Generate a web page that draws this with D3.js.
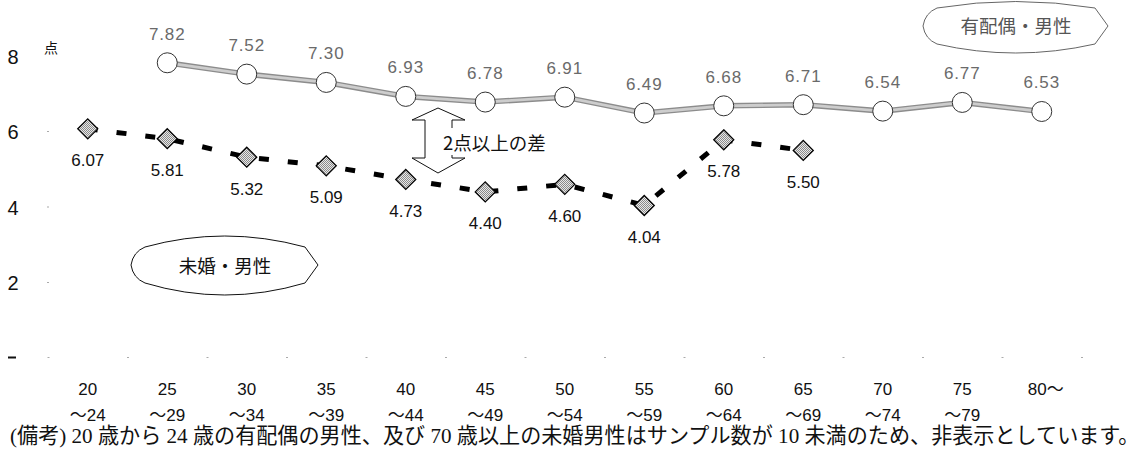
<!DOCTYPE html>
<html><head><meta charset="utf-8">
<script src="https://cdn.jsdelivr.net/npm/d3@7"></script>
<style>body{margin:0;background:#fff}svg{display:block}</style>
</head><body><svg id="c" width="1145" height="454"></svg>
<script>
// ---- data ----
const categories = ["20～24","25～29","30～34","35～39","40～44","45～49","50～54","55～59","60～64","65～69","70～74","75～79","80～"];
const tickLine1 = ["20","25","30","35","40","45","50","55","60","65","70","75","80～"];
const tickLine2 = ["～24","～29","～34","～39","～44","～49","～54","～59","～64","～69","～74","～79",""];
const marriedValues   = [null,7.82,7.52,7.30,6.93,6.78,6.91,6.49,6.68,6.71,6.54,6.77,6.53];
const unmarriedValues = [6.07,5.81,5.32,5.09,4.73,4.40,4.60,4.04,5.78,5.50,null,null,null];
const yTicks = [0,2,4,6,8];
const yUnit = "点";
const marriedName = "有配偶・男性";
const unmarriedName = "未婚・男性";
const diffNote = "2点以上の差";
const footnote = "(備考) 20 歳から 24 歳の有配偶の男性、及び 70 歳以上の未婚男性はサンプル数が 10 未満のため、非表示としています。";

const svg = d3.select("#c");
const sans = "'Liberation Sans', Arial, 'Noto Sans CJK JP', sans-serif";
const cjk = "'Noto Sans CJK JP', sans-serif";

const x = d3.scaleBand().domain(categories).range([48, 1081.5]);
const cx = c => x(c) + x.bandwidth()/2;
const y = d3.scaleLinear().domain([0, 8]).range([358, 56]);

// patterns
const defs = svg.append("defs");
const pat = defs.append("pattern").attr("id","stip").attr("width",2).attr("height",2).attr("patternUnits","userSpaceOnUse");
pat.append("rect").attr("width",2).attr("height",2).attr("fill","#e8e8e8");
pat.append("rect").attr("x",0).attr("y",0).attr("width",1).attr("height",1).attr("fill","#8a8a8a");
pat.append("rect").attr("x",1).attr("y",1).attr("width",1).attr("height",1).attr("fill","#8a8a8a");

// y axis: tick dots + labels
const yAxis = svg.append("g");
yAxis.selectAll("rect.tk").data(yTicks.filter(d => d > 0 && d < 8)).join("rect")
  .attr("x", 47).attr("y", d => y(d) - 0.5).attr("width", 2).attr("height", 1).attr("fill", "#aaa");
yAxis.selectAll("text").data(yTicks.filter(d => d > 0)).join("text")
  .attr("x", 13).attr("y", d => y(d) + 7.5).attr("text-anchor","middle")
  .attr("font-family", sans).attr("font-size", 20).attr("fill","#111").text(d => d);
yAxis.append("rect").attr("x", 8).attr("y", y(0) - 1.5).attr("width", 8).attr("height", 2).attr("fill","#111");
svg.append("text").attr("x", 51).attr("y", 53).attr("text-anchor","middle")
  .attr("font-family", cjk).attr("font-size", 14).attr("fill","#111").text(yUnit);

// x axis: boundary dots + two-line labels
const bounds = categories.map(c => x(c)).concat([x.range()[1]]);
svg.append("g").selectAll("rect").data(bounds).join("rect")
  .attr("x", d => d - 0.5).attr("y", 357).attr("width", 2).attr("height", 1).attr("fill", "#aaa");
const xl = svg.append("g").attr("font-family", sans).attr("font-size", 17).attr("fill","#111").attr("text-anchor","middle");
xl.selectAll("text.l1").data(categories).join("text").attr("class","l1")
  .attr("x", (c,i) => cx(c) + (tickLine1[i].length > 2 ? 4 : 0)).attr("y", 395).text((c,i) => tickLine1[i]);
xl.selectAll("text.l2").data(categories).join("text").attr("class","l2")
  .attr("x", c => cx(c)).attr("y", 421).text((c,i) => tickLine2[i]);

// married series
const mData = categories.map((c,i) => ({c, v: marriedValues[i]})).filter(d => d.v != null);
const line = d3.line().x(d => cx(d.c)).y(d => y(d.v));
svg.append("path").attr("d", line(mData)).attr("fill","none").attr("stroke","#8c8c8c").attr("stroke-width",5.5);
svg.append("path").attr("d", line(mData)).attr("fill","none").attr("stroke","#cdcdcd").attr("stroke-width",2.8);
svg.append("g").selectAll("circle").data(mData).join("circle")
  .attr("cx", d => cx(d.c)).attr("cy", d => y(d.v)).attr("r", 10)
  .attr("fill","#fff").attr("stroke","#333").attr("stroke-width",1);
svg.append("g").selectAll("text").data(mData).join("text")
  .attr("x", d => cx(d.c)).attr("y", d => y(d.v) - 23).attr("text-anchor","middle")
  .attr("font-family", sans).attr("font-size", 17).attr("letter-spacing", 0.8).attr("fill","#6a6a6a")
  .text(d => d.v.toFixed(2));

// unmarried series
const uData = categories.map((c,i) => ({c, v: unmarriedValues[i]})).filter(d => d.v != null);
svg.append("path").attr("d", line(uData)).attr("fill","none").attr("stroke","#000")
  .attr("stroke-width",5).attr("stroke-dasharray","10,19");
svg.append("g").selectAll("path").data(uData).join("path")
  .attr("d", d => { const px = cx(d.c), py = y(d.v); return `M${px},${py-10}L${px+10},${py}L${px},${py+10}L${px-10},${py}Z`; })
  .attr("fill","url(#stip)").attr("stroke","#000").attr("stroke-width",1.3);
svg.append("g").selectAll("text").data(uData).join("text")
  .attr("x", d => cx(d.c)).attr("y", d => y(d.v) + 37.5).attr("text-anchor","middle")
  .attr("font-family", sans).attr("font-size", 17).attr("fill","#111")
  .text(d => d.v.toFixed(2));

// callout shapes
function lens(L, R, cyy, top, bot) {
  const m = (L + R) / 2;
  const tY = 2*top - (cyy - 18), bY = 2*bot - (cyy + 18);
  return `M${L},${cyy} Q${L+2},${cyy-13} ${L+14},${cyy-18} Q${m},${tY} ${R-13},${cyy-18} L${R},${cyy} L${R-13},${cyy+18} Q${m},${bY} ${L+14},${cyy+18} Q${L+2},${cyy+13} ${L},${cyy} Z`;
}
svg.append("path").attr("d", lens(131, 318, 265, 236, 295)).attr("fill","#fff").attr("stroke","#111").attr("stroke-width",1);
svg.append("text").attr("x", 225).attr("y", 273).attr("text-anchor","middle")
  .attr("font-family", cjk).attr("font-size", 18.5).attr("fill","#111").text(unmarriedName);

svg.append("path").attr("d", lens(923, 1108, 26, 1.5, 53)).attr("fill","#fff").attr("stroke","#666").attr("stroke-width",1);
svg.append("text").attr("x", 1016).attr("y", 33).attr("text-anchor","middle")
  .attr("font-family", cjk).attr("font-size", 18.5).attr("fill","#555").text(marriedName);

// double arrow
svg.append("path")
  .attr("d", `M438,108 L465,120 L452,120 L452,158 L465,158 L438,173 L412,158 L425,158 L425,120 L412,120 Z`)
  .attr("fill","#fff").attr("stroke","#111").attr("stroke-width",1);
svg.append("rect").attr("x", 446).attr("y", 128).attr("width", 108).attr("height", 27).attr("fill","#fff");
svg.append("text").attr("x", 443).attr("y", 150).attr("font-family", cjk).attr("font-size", 18.5).attr("fill","#111").text(diffNote);

// footnote (font size fitted to the width it occupies)
const fn = svg.append("text").attr("x", 10).attr("y", 443)
  .attr("font-family", "'Liberation Serif', 'Noto Sans CJK JP', serif").attr("font-size", 18).attr("fill","#111")
  .text(footnote);
const w = fn.node().getComputedTextLength();
fn.attr("font-size", Math.min(22, 18 * 1130 / w));
const w2 = fn.node().getComputedTextLength();
if (Math.abs(w2 - 1130) > 4) fn.attr("textLength", 1130).attr("lengthAdjust", "spacing");
</script></body></html>
